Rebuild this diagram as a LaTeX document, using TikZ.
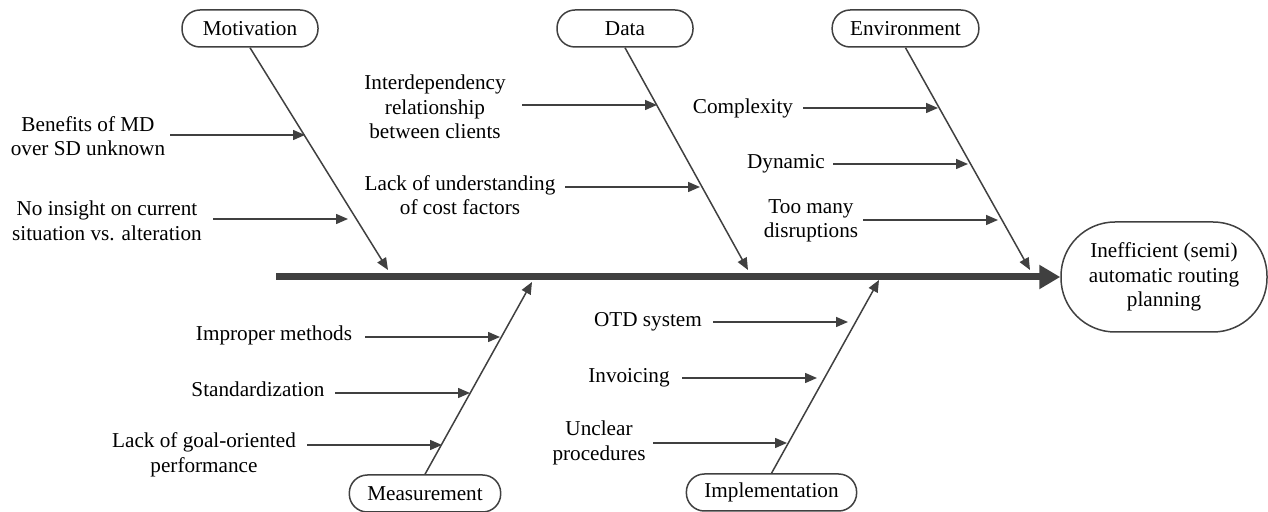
\documentclass[tikz,border=0pt]{standalone}
\usepackage{fontspec}
\setmainfont{Liberation Serif}
\usetikzlibrary{arrows.meta}
\definecolor{lc}{HTML}{404040}
\begin{document}
\begin{tikzpicture}[x=0.5pt,y=-0.5pt,
  every node/.style={font=\fontsize{10.6}{12.3}\selectfont, text=black, inner sep=0pt},
  cat/.style={draw=lc, line width=0.75pt, rounded corners=9pt, minimum width=68pt,
              minimum height=18.5pt, inner xsep=9pt},
  effect/.style={draw=lc, line width=0.75pt, rounded corners=27pt, minimum width=103pt,
              minimum height=55pt, align=center},
  lbl/.style={align=center},
  bone/.style={draw=lc, line width=0.75pt, -{Triangle[length=6pt,width=5pt]}},
  cause/.style={draw=lc, line width=0.75pt, -{Triangle[length=6pt,width=5pt]}},
  spine/.style={draw=lc, line width=3.5pt, -{Triangle[length=10.5pt,width=11.5pt]}}]
\useasboundingbox (0,0) rectangle (1268,512);

% categories
\node[cat] (mot) at (250,28.5) {Motivation};
\node[cat] (dat) at (625,28.5) {Data};
\node[cat] (env) at (905.5,28.5) {Environment};
\node[cat] (mea) at (425,493.5) {Measurement};
\node[cat] (imp) at (771.5,492.5) {Implementation};

% effect
\node[effect] (eff) at (1164,277) {Inefficient (semi)\\automatic routing\\planning};

% spine
\coordinate (sp0) at (276,277);
\draw[spine] (sp0) -- (eff.west);

% bone tips
\coordinate (tmot) at (388,270);
\coordinate (tdat) at (748,270);
\coordinate (tenv) at (1030,270);
\coordinate (tmea) at (532,282);
\coordinate (timp) at (879,280);
\draw[bone] (mot.south) -- (tmot);
\draw[bone] (dat.south) -- (tdat);
\draw[bone] (env.south) -- (tenv);
\draw[bone] (mea.north) -- (tmea);
\draw[bone] (imp.north) -- (timp);

% cause labels
\node[lbl] (c1) at (88,136) {Benefits of MD\\over SD unknown};
\node[lbl] (c2) at (107,221) {No insight on current\\situation vs. alteration};
\node[lbl] (c3) at (435,107) {Interdependency\\relationship\\between clients};
\node[lbl] (c4) at (460,195) {Lack of understanding\\of cost factors};
\node[lbl] (c5) at (743,108) {Complexity};
\node[lbl] (c6) at (786,164) {Dynamic};
\node[lbl] (c7) at (811,221) {Too many\\disruptions};
\node[lbl] (c8) at (274,335) {Improper methods};
\node[lbl] (c9) at (258,389) {Standardization};
\node[lbl] (c10) at (204,455) {Lack of goal-oriented\\performance};
\node[lbl] (c11) at (648,322) {OTD system};
\node[lbl] (c12) at (629,378) {Invoicing};
\node[lbl] (c13) at (599,443) {Unclear\\procedures};

% cause arrows
\coordinate (s1) at (170,135);  \coordinate (e1) at (305,135);
\coordinate (s2) at (213,219);  \coordinate (e2) at (348,219);
\coordinate (s3) at (522,105);  \coordinate (e3) at (657,105);
\coordinate (s4) at (565,187);  \coordinate (e4) at (700,187);
\coordinate (s5) at (803,108);  \coordinate (e5) at (938,108);
\coordinate (s6) at (833,164);  \coordinate (e6) at (968,164);
\coordinate (s7) at (863,220);  \coordinate (e7) at (998,220);
\coordinate (s8) at (365,337);  \coordinate (e8) at (500,337);
\coordinate (s9) at (335,393);  \coordinate (e9) at (470,393);
\coordinate (s10) at (307,445); \coordinate (e10) at (442,445);
\coordinate (s11) at (713,322); \coordinate (e11) at (848,322);
\coordinate (s12) at (682,378); \coordinate (e12) at (817,378);
\coordinate (s13) at (653,443); \coordinate (e13) at (787,443);
\foreach \i in {1,...,13} {\draw[cause] (s\i) -- (e\i);}
\end{tikzpicture}
\end{document}
